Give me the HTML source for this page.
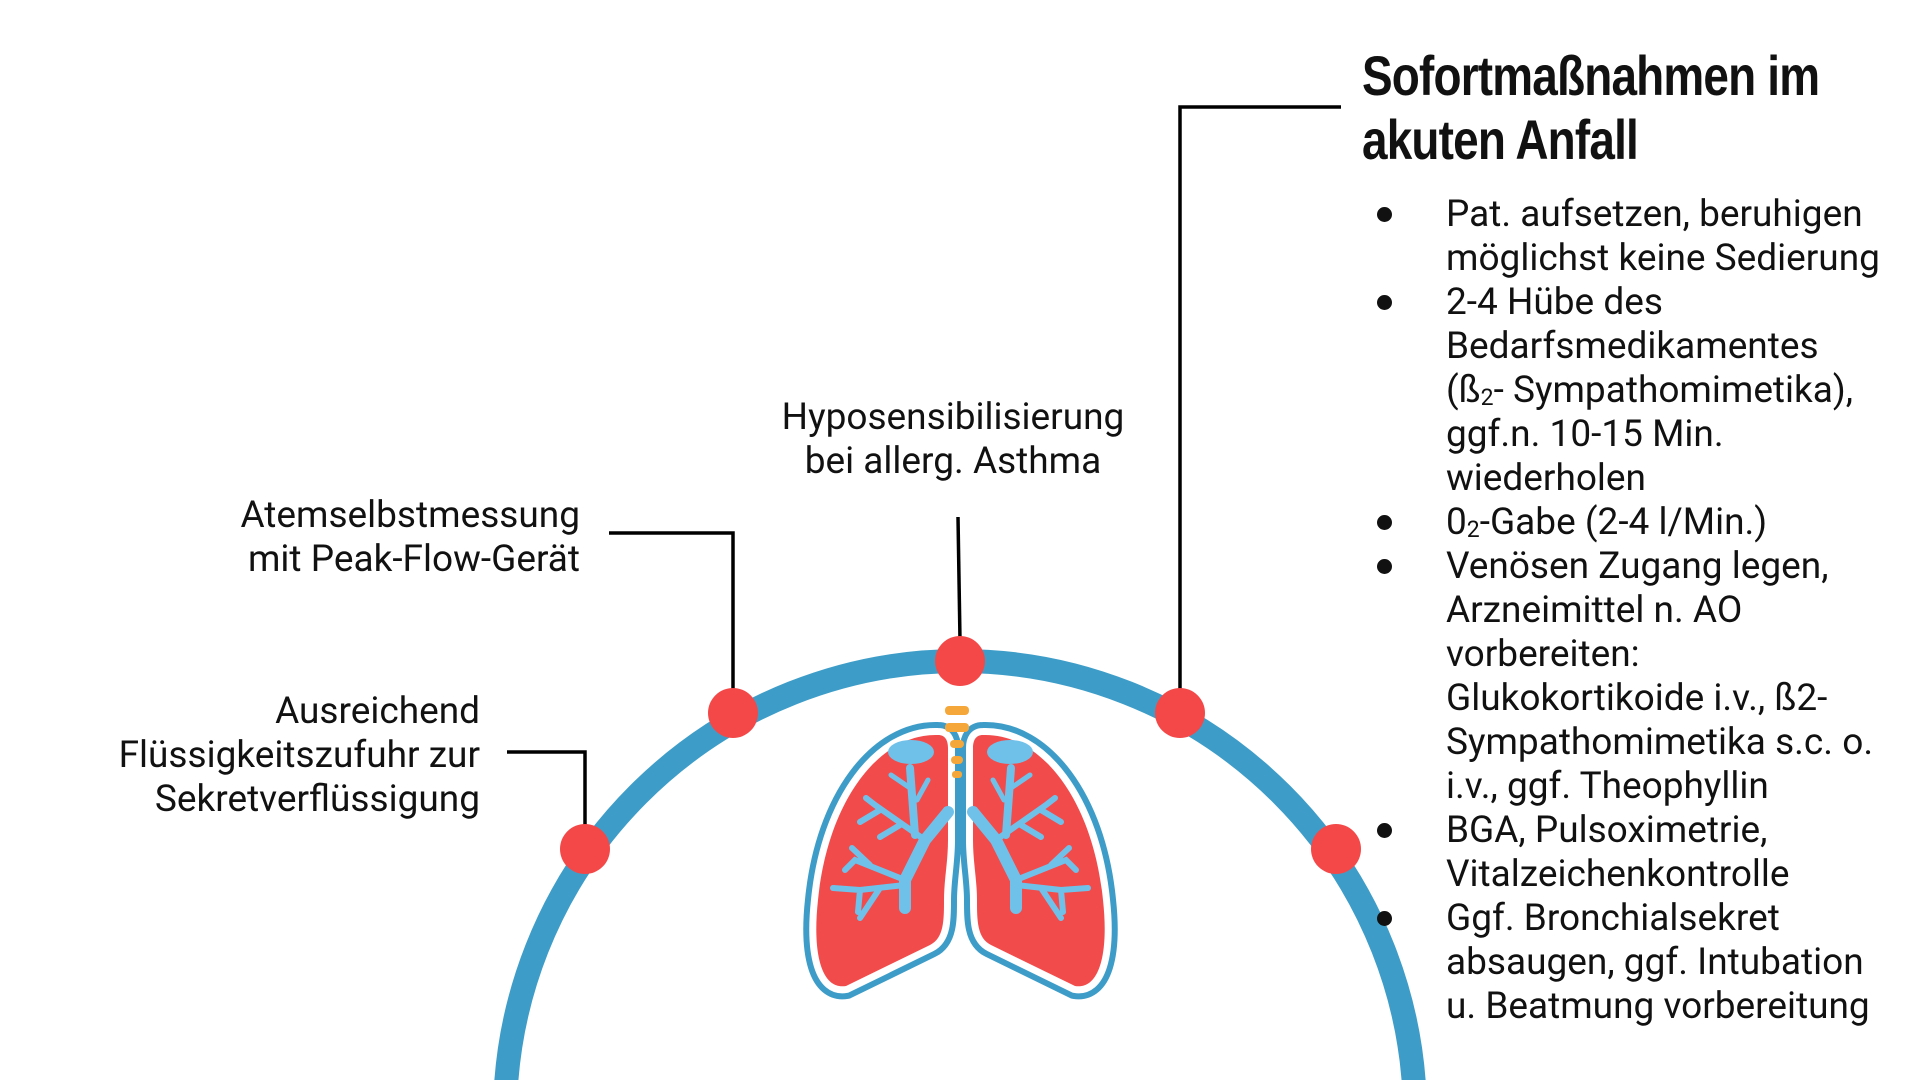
<!DOCTYPE html>
<html><head><meta charset="utf-8"><style>
html,body{margin:0;width:1920px;height:1080px;overflow:hidden}
body{background:#fff;position:relative;font-family:"Roboto","Liberation Sans",sans-serif;color:#111}
.t{position:absolute;font-size:37px;line-height:44px;white-space:nowrap}
.r{text-align:right}
.c{text-align:center}
.title{position:absolute;left:1362px;top:44px;font-family:"Liberation Sans Narrow","Liberation Sans",sans-serif;font-weight:bold;font-size:56px;line-height:64px;white-space:nowrap;transform:scaleX(0.82);transform-origin:left top;letter-spacing:-1px}
.b{position:absolute;left:1377px;width:15px;height:15px;border-radius:50%;background:#111}
sub{font-size:23px;line-height:0;position:relative;top:3px;vertical-align:baseline}
</style></head><body>
<svg width="1920" height="1080" style="position:absolute;left:0;top:0">
<circle cx="960" cy="1116" r="455" fill="none" stroke="#3d9dc8" stroke-width="24"/>
<g stroke="#000" stroke-width="3.5" fill="none">
<polyline points="609,533 733,533 733,737"/>
<polyline points="958,517 960,640"/>
<polyline points="507,752 585,752 585,827"/>
<polyline points="1341,107 1180,107 1180,692"/>
</g>
<g fill="#f44848">
<circle cx="960" cy="661" r="25"/>
<circle cx="733" cy="713" r="25"/>
<circle cx="1180" cy="713" r="25"/>
<circle cx="585" cy="849" r="25"/>
<circle cx="1336" cy="849" r="25"/>
</g>
<g id="lung">
<path d="M938 735 C880 733 828 800 818 900 C812 955 822 990 846 986 L930 945 C944 938 944 920 944 900 C944 880 948 862 948 840 L948 748 C948 740 945 735 938 735 Z" fill="#f24b4b" stroke="#3d9dc8" stroke-width="26"/>
<path d="M938 735 C880 733 828 800 818 900 C812 955 822 990 846 986 L930 945 C944 938 944 920 944 900 C944 880 948 862 948 840 L948 748 C948 740 945 735 938 735 Z" fill="none" stroke="#fff" stroke-width="14"/>
<path d="M938 735 C880 733 828 800 818 900 C812 955 822 990 846 986 L930 945 C944 938 944 920 944 900 C944 880 948 862 948 840 L948 748 C948 740 945 735 938 735 Z" fill="#f24b4b"/>
<ellipse cx="911" cy="752" rx="23" ry="12" fill="#6fc1ea"/>
<g stroke="#6fc1ea" stroke-linecap="round" fill="none">
<path d="M948 812 L925 840 L905 880 L905 908" stroke-width="12"/>
<path d="M910 768 L915 835" stroke-width="8"/>
<path d="M913 790 L891 775 M917 800 L928 780" stroke-width="5"/>
<path d="M925 840 L875 805 L866 798 M880 810 L860 822 M900 825 L880 837" stroke-width="6"/>
<path d="M905 880 L855 860 L845 870 M870 865 L852 848" stroke-width="6"/>
<path d="M905 885 L860 890 L833 888 M860 890 L858 912 M880 888 L860 918" stroke-width="6"/>
</g>
</g>
<use href="#lung" transform="translate(1921,0) scale(-1,1)"/>
<g fill="#f5a73a">
<rect x="945" y="706" width="24" height="9" rx="4"/>
<rect x="945" y="723" width="24" height="9" rx="4"/>
<rect x="950" y="740" width="14" height="8" rx="4"/>
<rect x="951" y="756" width="12" height="8" rx="4"/>
<rect x="952" y="771" width="10" height="7" rx="3"/>
</g>
</svg>

<div class="t r" style="right:1340px;top:494px">Atemselbstmessung<br>mit Peak-Flow-Gerät</div>
<div class="t c" style="left:753px;width:400px;top:396px">Hyposensibilisierung<br>bei allerg. Asthma</div>
<div class="t r" style="right:1440px;top:690px">Ausreichend<br>Flüssigkeitszufuhr zur<br>Sekretverflüssigung</div>

<div class="title">Sofortmaßnahmen im<br>akuten Anfall</div>

<div class="b" style="top:207px"></div>
<div class="b" style="top:295px"></div>
<div class="b" style="top:515px"></div>
<div class="b" style="top:559px"></div>
<div class="b" style="top:823px"></div>
<div class="b" style="top:911px"></div>
<div class="t" style="left:1446px;top:193px">Pat. aufsetzen, beruhigen<br>möglichst keine Sedierung<br>2-4 Hübe des<br>Bedarfsmedikamentes<br>(ß<sub>2</sub>- Sympathomimetika),<br>ggf.n. 10-15 Min.<br>wiederholen<br>0<sub>2</sub>-Gabe (2-4 l/Min.)<br>Venösen Zugang legen,<br>Arzneimittel n. AO<br>vorbereiten:<br>Glukokortikoide i.v., ß2-<br>Sympathomimetika s.c. o.<br>i.v., ggf. Theophyllin<br>BGA, Pulsoximetrie,<br>Vitalzeichenkontrolle<br>Ggf. Bronchialsekret<br>absaugen, ggf. Intubation<br>u. Beatmung vorbereitung</div>
</body></html>
